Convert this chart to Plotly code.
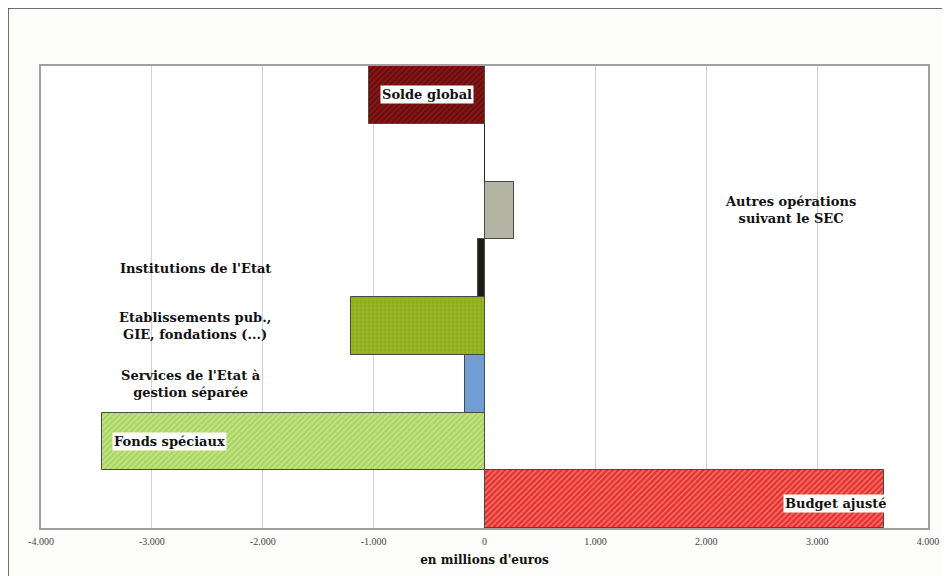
import plotly.graph_objects as go

categories = ["Budget ajusté", "Fonds spéciaux", "Services de l'Etat à gestion séparée",
              "Etablissements pub., GIE, fondations (...)", "Institutions de l'Etat",
              "Autres opérations suivant le SEC", "", "Solde global"]
values = [3600, -3450, -180, -1200, -60, 270, None, -1040]
colors = ["#e8302c", "#a9d65e", "#6e9ed4", "#8fae1c", "#1c1c18", "#b4b4a4", "#ffffff", "#8a1414"]
pattern_shapes = ["/", "/", "", ".", "", "", "", "/"]
pattern_fg = ["#f4d0c8", "#eaf6da", "#6e9ed4", "#a4c040", "#1c1c18", "#b4b4a4", "#ffffff", "#1a0a0a"]
labels = ["Budget ajusté", "Fonds spéciaux", "Services de l'Etat à<br>gestion séparée",
          "Etablissements pub.,<br>GIE, fondations (...)", "Institutions de l'Etat",
          "Autres opérations<br>suivant le SEC", "", "Solde global"]
label_x = [3170, -2840, -2650, -2610, -2610, 2760, None, -520]
label_bg = [True, True, False, False, False, False, False, True]
tick_vals = [-4000, -3000, -2000, -1000, 0, 1000, 2000, 3000, 4000]
tick_text = ["-4.000", "-3.000", "-2.000", "-1.000", "0", "1.000", "2.000", "3.000", "4.000"]

LABEL_FONT = "DejaVu Serif"

fig = go.Figure()
for i, cat in enumerate(categories):
    if values[i] is None:
        continue
    fig.add_trace(go.Bar(
        y=[cat], x=[values[i]], orientation="h",
        marker=dict(color=colors[i], line=dict(color="#4a4a40", width=1),
                    pattern=dict(shape=pattern_shapes[i], fgcolor=pattern_fg[i],
                                 size=4, solidity=0.35)),
        showlegend=False, hoverinfo="skip"))

for i, cat in enumerate(categories):
    if not labels[i]:
        continue
    fig.add_annotation(
        x=label_x[i], y=cat, xref="x", yref="y", text="<b>" + labels[i] + "</b>",
        showarrow=False, font=dict(family=LABEL_FONT, size=13, color="#111111"),
        bgcolor="#ffffff" if label_bg[i] else "rgba(0,0,0,0)", borderpad=1,
        yshift=-4 if i == 0 else 0)

W, H = 942, 568
L, R, T, B = 33, 22, 58, 48
pw, ph = W - L - R, H - T - B
fig.add_shape(type="rect", xref="paper", yref="paper",
              x0=-L / pw, x1=(W + 20 - L) / pw,
              y0=-(B + 20) / ph, y1=1 + T / ph,
              line=dict(color="#404040", width=1.5), layer="below")

fig.update_layout(
    width=W, height=H,
    margin=dict(l=L, r=R, t=T, b=B),
    paper_bgcolor="#fdfdfb", plot_bgcolor="#ffffff",
    bargap=0, barmode="overlay",
    font=dict(family="Liberation Serif"),
    xaxis=dict(range=[-4000, 4000], tickvals=tick_vals, ticktext=tick_text,
               tickfont=dict(family="Liberation Serif", size=10, color="#444444"), showgrid=True,
               gridcolor="#d0d0d0", gridwidth=1, zeroline=True, zerolinecolor="#222222",
               zerolinewidth=1, showline=True, linecolor="#a0a0a0", linewidth=2, mirror=True,
               ticks="", ticklabelstandoff=3,
               title=dict(text="<b>en millions d'euros</b>",
                          font=dict(family=LABEL_FONT, size=12, color="#111111"),
                          standoff=10)),
    yaxis=dict(categoryorder="array", categoryarray=categories, type="category",
               showticklabels=False, showgrid=False, showline=True, linecolor="#a0a0a0",
               linewidth=2, mirror=True, range=[-0.5, 7.5], ticks=""),
)

fig.write_html("out.html")
